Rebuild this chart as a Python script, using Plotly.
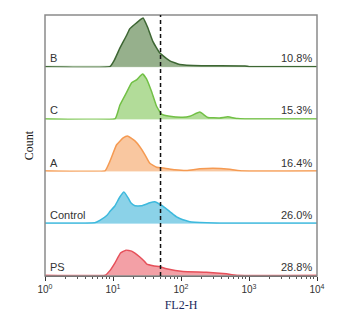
import plotly.graph_objects as go
from plotly.subplots import make_subplots

# ---- data (FL2-H value, count) ----
samples = ["B", "C", "A", "Control", "PS"]
percents = ["10.8%", "15.3%", "16.4%", "26.0%", "28.8%"]

fl2_B = [1, 9.0, 10.5, 12.6, 15.8, 17.7, 22.2, 25.0, 27.7, 32.5, 38.5, 48.9, 68.5, 95.9, 200, 870, 1000, 10000]
cnt_B = [0, 0, 7, 19, 32, 39, 45, 48, 50, 40, 26, 14, 6, 2.3, 1, 0.7, 0, 0]

fl2_C = [1, 10.7, 12.6, 15.8, 18.8, 22.2, 27.2, 31.1, 36.9, 43.7, 51.7, 68.5, 106, 135, 189, 248, 371, 487, 682, 870, 10000]
cnt_C = [0, 0, 14, 27, 37, 40, 46, 41, 28, 13, 5, 2.7, 1.7, 2.7, 7, 1.5, 1, 2.2, 0.3, 0, 0]

fl2_A = [1, 7.6, 9.0, 11.3, 14.1, 16.3, 21.0, 24.8, 29.4, 34.8, 43.7, 57.8, 81, 120, 189, 293, 521, 807, 10000]
cnt_A = [0, 0, 10, 27, 34, 36, 31, 25, 17, 8, 4, 3, 1.5, 0.7, 2.3, 3, 2, 0, 0]

fl2_Control = [1, 3.9, 5.4, 6.4, 8.1, 9.0, 10.7, 12.6, 14.5, 16.7, 18.3, 21.0, 26.3, 34.8, 41.2, 50, 57.8, 68.5, 86, 96, 135, 237, 371, 10000]
cnt_Control = [0, 0, 0.5, 3, 8, 12, 18, 27, 32, 26, 21, 18, 18, 21, 22, 19, 16, 12, 6.5, 5, 1.7, 0.5, 0, 0]

fl2_PS = [1, 7.6, 9.0, 10.7, 12.9, 15.5, 18.8, 21.0, 24.8, 27.7, 31.1, 38.9, 48.9, 61.2, 107, 237, 466, 689, 10000]
cnt_PS = [0, 0, 5, 13, 23, 26, 25, 23, 19, 16, 12, 10, 9, 7, 4, 3.3, 1.7, 0, 0]

gate = 50
tick_vals = [1, 10, 100, 1000, 10000]
tick_text = ["10<sup>0</sup>", "10<sup>1</sup>", "10<sup>2</sup>", "10<sup>3</sup>", "10<sup>4</sup>"]

xs = [fl2_B, fl2_C, fl2_A, fl2_Control, fl2_PS]
ys = [cnt_B, cnt_C, cnt_A, cnt_Control, cnt_PS]

line_colors = ["#3d6633", "#72c046", "#f59a52", "#3db9dd", "#e6505a"]
fill_colors = ["#96b08c", "#b2dc99", "#f9c7a0", "#8bd2e8", "#f3a0a6"]
base_colors = ["#b9cfb3", "#c6e7b3", "#fad3b0", "#addff0", "#f6b8bc"]

fig = make_subplots(rows=5, cols=1, shared_xaxes=True, vertical_spacing=0)

for i in range(5):
    r = i + 1
    fig.add_trace(go.Scatter(x=[1, 10000], y=[0, 0], mode="lines",
                             line=dict(color=base_colors[i], width=2),
                             hoverinfo="skip", showlegend=False), row=r, col=1)
    fig.add_trace(go.Scatter(x=xs[i], y=ys[i], mode="lines", fill="tozeroy",
                             fillcolor=fill_colors[i],
                             line=dict(color=line_colors[i], width=1.5, shape="spline", smoothing=0.35),
                             name=samples[i], showlegend=False), row=r, col=1)
    yname = "y" if r == 1 else f"y{r}"
    fig.add_annotation(text=samples[i], xref="paper", x=0.012, xanchor="left",
                       yref=f"{yname} domain", y=0.02, yanchor="bottom", showarrow=False,
                       font=dict(family="Liberation Sans, Arial", size=11, color="#333333"))
    fig.add_annotation(text=percents[i], xref="paper", x=0.99, xanchor="right",
                       yref=f"{yname} domain", y=0.02, yanchor="bottom", showarrow=False,
                       font=dict(family="Liberation Sans, Arial", size=11, color="#333333"))
    fig.update_yaxes(range=[-0.5, 53], showticklabels=False, showgrid=False, zeroline=False,
                     showline=False, ticks="", row=r, col=1)
    fig.update_xaxes(type="log", range=[0, 4], showgrid=False, zeroline=False, row=r, col=1)

fig.update_xaxes(showticklabels=False, ticks="")
fig.update_xaxes(row=5, col=1, showticklabels=True, tickvals=tick_vals, ticktext=tick_text,
                 ticks="outside", ticklen=4, tickcolor="#333333", showline=True,
                 linecolor="#333333", linewidth=1,
                 minor=dict(ticks="outside", ticklen=2, tickcolor="#555555",
                            tickvals=[v * m for v in [1, 10, 100, 1000] for m in range(2, 10)]),
                 tickfont=dict(family="Liberation Sans, Arial", size=10, color="#333333"),
                 title=dict(text="FL2-H", standoff=6,
                            font=dict(family="Liberation Serif, Times New Roman", size=12, color="#1c2a5c")))

# frame
fig.add_shape(type="rect", xref="paper", yref="paper", x0=0, x1=1, y0=0, y1=1,
              line=dict(color="#8a8a8a", width=1.5), layer="above")
# gate line
fig.add_shape(type="line", xref="x5", yref="paper", x0=gate, x1=gate, y0=0, y1=1,
              line=dict(color="#111111", width=1.5, dash="4px,3px"), layer="above")

fig.add_annotation(text="Count", xref="paper", yref="paper", x=-0.06, y=0.5,
                   xanchor="center", yanchor="middle", textangle=-90, showarrow=False,
                   font=dict(family="Liberation Serif, Times New Roman", size=12, color="#111111"))

fig.update_layout(width=333, height=308, margin=dict(l=37, r=24, t=7, b=36),
                  plot_bgcolor="white", paper_bgcolor="white")

fig.write_html("out.html")
